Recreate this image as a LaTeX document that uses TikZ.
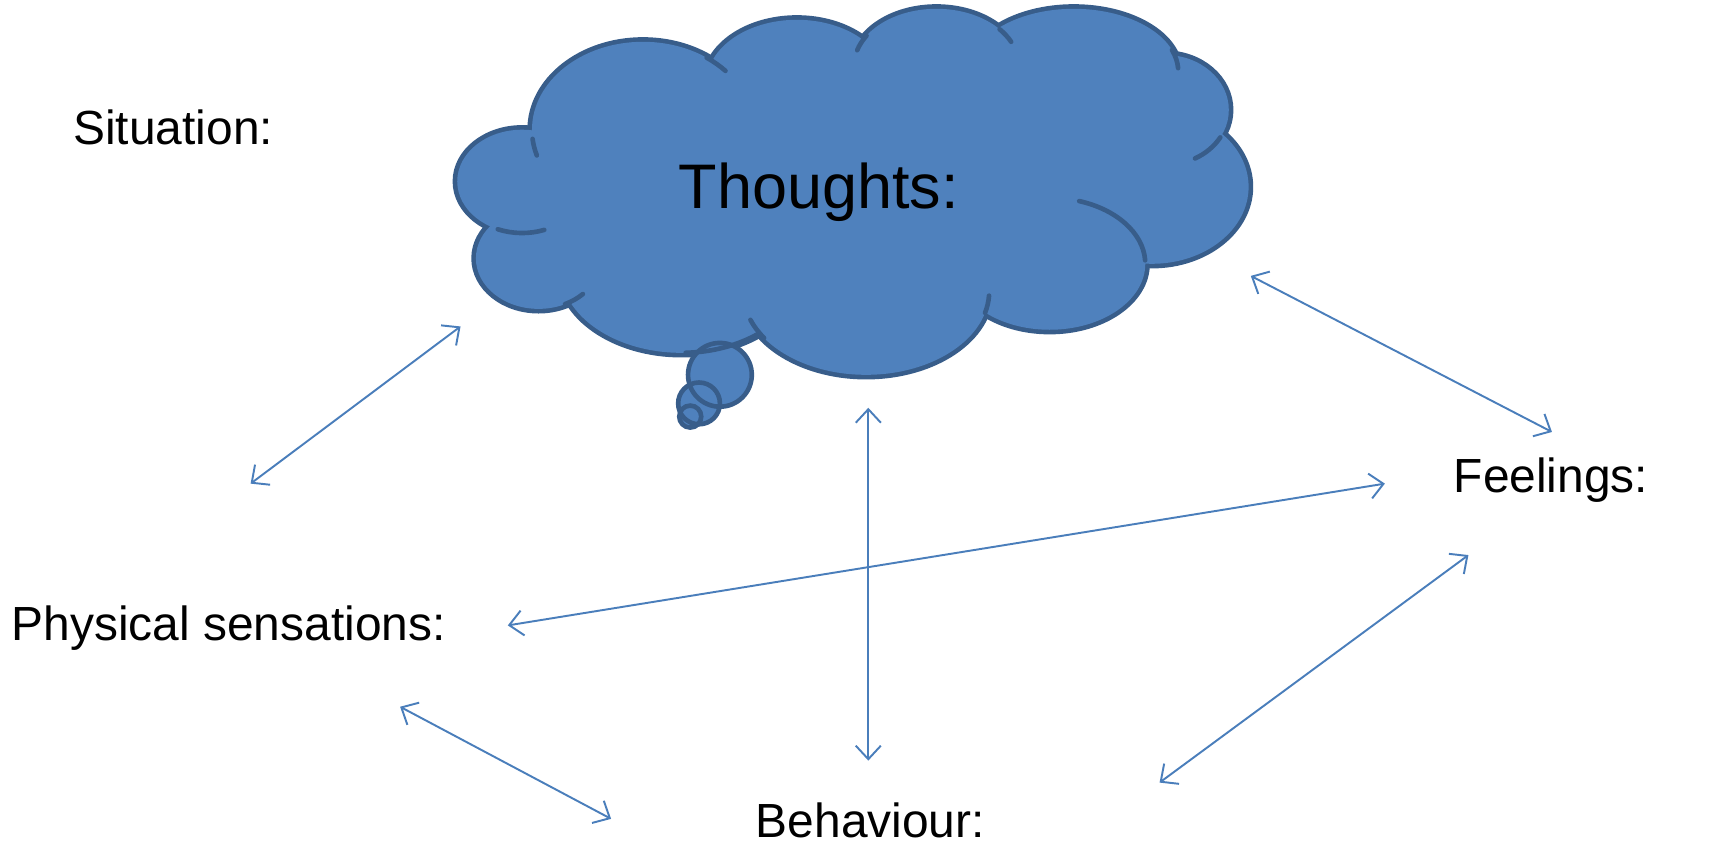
\documentclass[tikz,border=0pt]{standalone}
\usepackage{fontspec}
\setmainfont{Liberation Sans}
\usetikzlibrary{arrows.meta,positioning}
\definecolor{cloudfill}{HTML}{4F81BD}
\definecolor{cloudline}{HTML}{385D8A}
\definecolor{linkblue}{HTML}{4A7EBB}
% lobes of the cloud: centre x / centre y / x radius / y radius
\def\lobes{475/165/59/47, 490/235/57/46, 620/245/110/76, 788/265/112/76,
  955/240/87/60, 1048/170/88/70, 1060/100/58/50, 977/65/95/57,
  852/60/75/52, 725/75/82/57, 585/118/101/80}
% thought bubbles: centre x / centre y / radius
\def\bubbles{655/341/29, 636/367/19, 628/379/10}

\begin{document}
\begin{tikzpicture}[x=0.1mm, y=-0.1mm, >={Straight Barb[length=3.5pt,width=6.5pt]},
    lbl/.style={anchor=base west, inner sep=0pt, font=\fontsize{12.4}{15}\selectfont},
    link/.style={<->, linkblue, line width=0.5pt},
    lobe/.style={cloudline, line width=2.4pt},
    crease/.style={cloudline, line width=1.2pt, line cap=round}]
    \useasboundingbox (0,0) rectangle (1564,766);

    % Cloud: outlines first, the fill then hides the inner halves
    \foreach \cx/\cy/\rx/\ry in \lobes
        \draw[lobe] (\cx,\cy) ellipse [x radius=\rx, y radius=\ry];
    \foreach \cx/\cy/\rx/\ry in \lobes
        \fill[cloudfill] (\cx,\cy) ellipse [x radius=\rx, y radius=\ry];
    \fill[cloudfill] (475,165) -- (490,235) -- (620,245) -- (788,265) -- (955,240)
        -- (1048,170) -- (1060,100) -- (977,65) -- (852,60) -- (725,75) -- (585,118) -- cycle;

    % creases inside the cloud
    \foreach \cx/\cy/\rx/\ry/\sa/\ea in {585/118/101/80/174/163, 475/165/59/47/112/70,
        490/235/57/46/65/45, 788/265/112/76/146/160, 788/265/112/76/15/3,
        955/240/87/60/-72/-3, 1060/100/58/50/30/62, 977/65/95/57/-20/-3,
        852/60/75/52/-40/-25, 852/60/75/52/212/196, 585/118/101/80/-55/-42}
        \draw[crease] ({\cx+\rx*cos(\sa)},{\cy+\ry*sin(\sa)}) arc [start angle=\sa, end angle=\ea, x radius=\rx, y radius=\ry];

    % thought bubbles: fills, then all outlines
    \foreach \bx/\by/\br in \bubbles
        \fill[cloudfill] (\bx,\by) circle [radius=\br];
    \foreach \bx/\by/\br in \bubbles
        \draw[crease] (\bx,\by) circle [radius=\br];
    % cloud edge over the big bubble
    \draw[crease] ({620+110*cos(88)},{245+76*sin(88)}) arc [start angle=88, end angle=50, x radius=110, y radius=76];

    % Labels
    \node[lbl] (situation) at (66,131) {Situation:};
    \node[lbl, font=\fontsize{16.3}{19}\selectfont] (thoughts) at (617,190) {Thoughts:};
    \node[lbl] (feelings) at (1322,448) {Feelings:};
    \node[lbl] (physical) at (10,583) {Physical sensations:};
    \node[lbl] (behaviour) at (687,762) {Behaviour:};

    % arrow ends
    \coordinate (th-ph) at (419,297);
    \coordinate (ph-th) at (228,440);
    \coordinate (th-fe) at (1138,251);
    \coordinate (fe-th) at (1412,393);
    \coordinate (th-be) at (790,371);
    \coordinate (be-th) at (790,692);
    \coordinate (fe-ph) at (1260,440);
    \coordinate (ph-fe) at (462,569);
    \coordinate (fe-be) at (1336,505);
    \coordinate (be-fe) at (1055,712);
    \coordinate (ph-be) at (364,643);
    \coordinate (be-ph) at (556,745);

    % Links
    \draw[link] (th-ph) -- (ph-th);
    \draw[link] (th-fe) -- (fe-th);
    \draw[link] (th-be) -- (be-th);
    \draw[link] (fe-ph) -- (ph-fe);
    \draw[link] (fe-be) -- (be-fe);
    \draw[link] (ph-be) -- (be-ph);
\end{tikzpicture}
\end{document}
